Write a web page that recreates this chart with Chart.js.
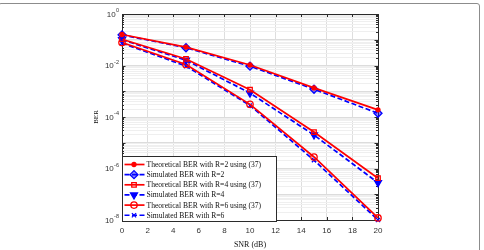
<!DOCTYPE html>
<html>
<head>
<meta charset="utf-8">
<script src="https://cdn.jsdelivr.net/npm/chart.js@4.4.1/dist/chart.umd.min.js"></script>
<style>
  html, body { margin: 0; padding: 0; background: #fff; overflow: hidden; }
  #wrap { position: relative; width: 484px; height: 250px; }
  #frame { position: absolute; left: -2px; top: 3px; width: 482px; height: 260px;
           border: 1px solid #8c8c8c; border-radius: 3px; box-sizing: border-box; }
  canvas { position: absolute; left: 0; top: 0; }
</style>
</head>
<body>
<div id="wrap">
  <div id="frame"></div>
  <canvas id="berChart" width="484" height="250"></canvas>
</div>
<script>
// SNR points (dB)
const snr = [0, 5, 10, 15, 20];

// BER values
const theoR2 = [0.16, 0.052, 0.0105, 1.35e-3, 1.9e-4];
const simR2  = [0.155, 0.049, 0.0094, 1.2e-3, 1.4e-4];
const theoR4 = [0.105, 0.018, 1.15e-3, 2.6e-5, 4.2e-7];
const simR4  = [0.1, 0.016, 8.5e-4, 2e-5, 2.8e-7];
const theoR6 = [0.078, 0.011, 3.1e-4, 2.8e-6, 1.2e-8];
const simR6  = [0.074, 0.0095, 2.8e-4, 2.1e-6, 1e-8];

const seriesLabels = [
  'Theoretical BER with R=2 using (37)',
  'Simulated BER with R=2',
  'Theoretical BER with R=4 using (37)',
  'Simulated BER with R=4',
  'Theoretical BER with R=6 using (37)',
  'Simulated BER with R=6'
];

const yLabelExps = [0, -2, -4, -6, -8];

const RED = '#ff0000';
const BLUE = '#0000ff';

const toXY = (vals) => vals.map((v, i) => ({ x: snr[i], y: v }));

const theoStyle = (style, radius, fill) => ({
  borderColor: RED, borderWidth: 1.7, pointStyle: style, pointRadius: radius,
  pointBorderColor: RED, pointBackgroundColor: fill, pointBorderWidth: 1.3,
  pointRotation: 0, borderDash: []
});
const simStyle = (style, radius, fill, rot) => ({
  borderColor: BLUE, borderWidth: 1.7, pointStyle: style, pointRadius: radius,
  pointBorderColor: BLUE, pointBackgroundColor: fill, pointBorderWidth: 1.3,
  pointRotation: rot || 0, borderDash: [5, 2.5]
});

const datasets = [
  Object.assign({ label: seriesLabels[0], data: toXY(theoR2) }, theoStyle('circle', 2, RED)),
  Object.assign({ label: seriesLabels[1], data: toXY(simR2) }, simStyle('rectRot', 4, 'rgba(0,0,255,0.45)')),
  Object.assign({ label: seriesLabels[2], data: toXY(theoR4) }, theoStyle('rect', 3.2, 'rgba(255,255,255,0)')),
  Object.assign({ label: seriesLabels[3], data: toXY(simR4) }, simStyle('triangle', 4, BLUE, 180)),
  Object.assign({ label: seriesLabels[4], data: toXY(theoR6) }, theoStyle('circle', 3.2, 'rgba(255,255,255,0)')),
  Object.assign({ label: seriesLabels[5], data: toXY(simR6) }, simStyle('crossRot', 3, BLUE))
];
datasets.forEach(d => { d.clip = false; d.fill = false; d.tension = 0; });

const isMajor = (v) => Math.abs(Math.log10(v) - Math.round(Math.log10(v))) < 1e-6;

// axis box, inward ticks, y labels with exponents, legend
const matlabLook = {
  id: 'matlabLook',
  beforeDatasetsDraw(chart) {
    const { ctx, chartArea: a, scales } = chart;
    ctx.save();
    ctx.strokeStyle = '#2b2b2b';
    ctx.lineWidth = 1;
    ctx.beginPath();
    scales.x.ticks.forEach(t => {
      const px = Math.round(scales.x.getPixelForValue(t.value)) + 0.5;
      ctx.moveTo(px, a.bottom); ctx.lineTo(px, a.bottom - 3);
      ctx.moveTo(px, a.top); ctx.lineTo(px, a.top + 3);
    });
    scales.y.ticks.forEach(t => {
      const py = Math.round(scales.y.getPixelForValue(t.value)) + 0.5;
      const len = isMajor(t.value) ? 3.5 : 2;
      ctx.moveTo(a.left, py); ctx.lineTo(a.left + len, py);
      ctx.moveTo(a.right, py); ctx.lineTo(a.right - len, py);
    });
    ctx.stroke();
    ctx.strokeRect(Math.round(a.left) + 0.5, Math.round(a.top) + 0.5,
      Math.round(a.right - a.left), Math.round(a.bottom - a.top));
    ctx.restore();
  },
  afterDraw(chart) {
    const { ctx, chartArea: a, scales } = chart;
    ctx.save();
    // y tick labels 10^k
    ctx.fillStyle = '#333';
    ctx.textBaseline = 'middle';
    ctx.textAlign = 'right';
    yLabelExps.forEach(e => {
      const py = scales.y.getPixelForValue(Math.pow(10, e));
      const xr = a.left - 3;
      ctx.font = '5.5px "Liberation Sans"';
      const exp = e === 0 ? '0' : '-' + Math.abs(e);
      const w = ctx.measureText(exp).width;
      ctx.fillText(exp, xr, py - 3.5);
      ctx.font = '8px "Liberation Sans"';
      ctx.fillText('10', xr - w - 0.3, py + 0.5);
    });

    // legend
    const lx = Math.round(a.left) + 0.5;
    const lw = 154;
    const lh = 65;
    const ly = Math.round(a.bottom) + 1.5 - lh;
    ctx.fillStyle = '#fff';
    ctx.fillRect(lx, ly, lw, lh);
    ctx.strokeStyle = '#2b2b2b';
    ctx.lineWidth = 1;
    ctx.strokeRect(lx, ly, lw, lh);
    chart.data.datasets.forEach((d, i) => {
      const cy = ly + 8 + i * 10.15;
      ctx.save();
      ctx.strokeStyle = d.borderColor;
      ctx.lineWidth = d.borderWidth;
      ctx.setLineDash(d.borderDash);
      ctx.beginPath();
      ctx.moveTo(lx + 2, cy); ctx.lineTo(lx + 22, cy);
      ctx.stroke();
      ctx.setLineDash([]);
      ctx.strokeStyle = d.pointBorderColor;
      ctx.fillStyle = d.pointBackgroundColor;
      ctx.lineWidth = d.pointBorderWidth;
      Chart.helpers.drawPoint(ctx, {
        pointStyle: d.pointStyle, radius: d.pointRadius,
        rotation: d.pointRotation, borderWidth: d.pointBorderWidth
      }, lx + 11.5, cy);
      ctx.restore();
      ctx.fillStyle = '#111';
      ctx.font = '7.6px "Liberation Serif"';
      ctx.textAlign = 'left';
      ctx.textBaseline = 'middle';
      ctx.fillText(d.label, lx + 24, cy + 0.5);
    });
    ctx.restore();
  }
};

new Chart('berChart', {
  type: 'line',
  data: { datasets: datasets },
  options: {
    responsive: false,
    animation: false,
    devicePixelRatio: 1,
    layout: { padding: { left: 90, top: 14, right: 106, bottom: 0 } },
    plugins: { legend: { display: false }, tooltip: { enabled: false } },
    scales: {
      x: {
        type: 'linear',
        min: 0, max: 20,
        ticks: {
          stepSize: 2,
          padding: 6,
          color: '#333',
          font: { family: 'Liberation Sans', size: 8 }
        },
        grid: { color: '#dedede', drawTicks: false },
        border: { display: false },
        title: {
          display: true, text: 'SNR (dB)', color: '#111',
          font: { family: 'Liberation Serif', size: 8 },
          padding: { top: 0, bottom: 0 }
        },
        afterFit: (s) => { s.height = 30; }
      },
      y: {
        type: 'logarithmic',
        min: 1e-8, max: 1,
        afterBuildTicks: (s) => {
          const ticks = [];
          for (let e = -8; e <= 0; e++) {
            for (let m = 1; m <= 9; m++) {
              const v = m * Math.pow(10, e);
              if (v <= 1.0000001) ticks.push({ value: v });
            }
          }
          s.ticks = ticks;
        },
        ticks: { display: false },
        grid: {
          drawTicks: false,
          color: (c) => (c.tick && isMajor(c.tick.value)) ? '#dcdcdc' : '#efefef'
        },
        border: { display: false },
        title: {
          display: true, text: 'BER', color: '#111',
          font: { family: 'Liberation Serif', size: 7 },
          padding: { top: 2, bottom: 0 }
        },
        afterFit: (s) => { s.width = 32; }
      }
    }
  },
  plugins: [matlabLook]
});
</script>
</body>
</html>
